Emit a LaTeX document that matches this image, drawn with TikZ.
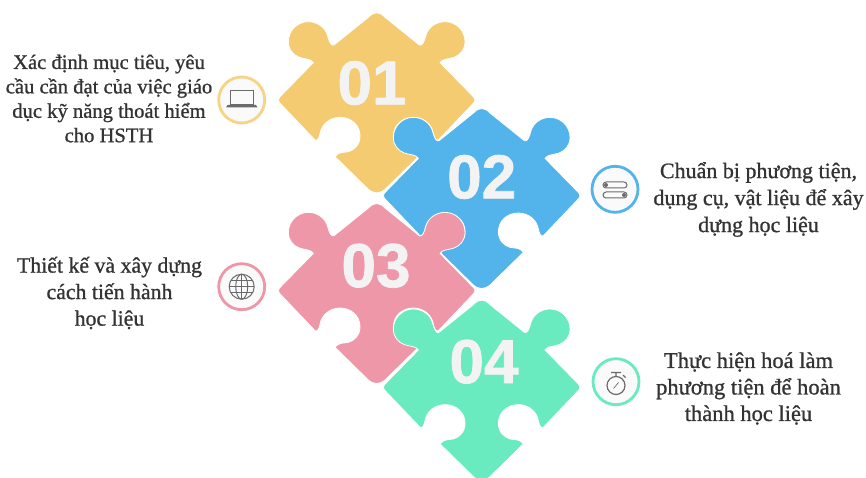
\documentclass[tikz,border=0pt]{standalone}
\usepackage{fontspec}
\setmainfont[FakeBold=0.9]{Liberation Serif}
\newfontfamily\numfont[FakeBold=1.2]{Liberation Sans}
\definecolor{cya}{HTML}{F4CB70}
\definecolor{cbl}{HTML}{52B4EA}
\definecolor{cpk}{HTML}{EE97A9}
\definecolor{cgr}{HTML}{69EBBF}
\definecolor{cnum}{HTML}{F3F3F3}
\definecolor{ctxt}{HTML}{333333}
\definecolor{cico}{HTML}{6B6B6B}
\tikzset{
  numlabel/.style={font=\numfont\fontsize{62}{62}\selectfont\bfseries,text=cnum,inner sep=0pt},
  caption/.style={text=ctxt,align=center,inner sep=0pt},
  ring/.style={circle,line width=2.8pt,fill=white!98!black,minimum size=46pt,inner sep=0pt},
  ico/.style={draw=cico,line width=1pt,fill=none},
  puzzle/.style={draw=white,line width=0.8pt,line join=round}
}
\newcommand{\puzzlepiece}[3]{%
\begin{scope}[shift={(#1,#2)},x=0.3333pt,y=-0.3333pt]
\fill[#3,puzzle] (25,-248) -- (128,-165)
 .. controls (136,-160) and (143,-175) .. (148,-195)
 .. controls (155,-218) and (178,-235) .. (205,-235)
 .. controls (238,-235) and (265,-208) .. (265,-175)
 .. controls (265,-150) and (250,-135) .. (232,-128)
 .. controls (215,-122) and (197,-124) .. (190,-112)
 -- (285,-15) .. controls (298,-3) and (298,3) .. (285,15)
 -- (185,120)
 .. controls (178,125) and (172,112) .. (170,100)
 .. controls (165,72) and (140,52) .. (110,52)
 .. controls (77,52) and (50,75) .. (50,108)
 .. controls (50,135) and (68,150) .. (85,155)
 .. controls (100,158) and (115,155) .. (125,170)
 -- (25,268) .. controls (8,282) and (-8,282) .. (-25,268)
 -- (-125,170)
 .. controls (-115,155) and (-100,158) .. (-85,155)
 .. controls (-68,150) and (-50,135) .. (-50,108)
 .. controls (-50,75) and (-77,52) .. (-110,52)
 .. controls (-140,52) and (-165,72) .. (-170,100)
 .. controls (-172,112) and (-178,125) .. (-185,120)
 -- (-285,15) .. controls (-298,3) and (-298,-3) .. (-285,-15)
 -- (-190,-112)
 .. controls (-197,-124) and (-215,-122) .. (-232,-128)
 .. controls (-250,-135) and (-265,-150) .. (-265,-175)
 .. controls (-265,-208) and (-238,-235) .. (-205,-235)
 .. controls (-178,-235) and (-155,-218) .. (-148,-195)
 .. controls (-143,-175) and (-136,-160) .. (-128,-165)
 -- (-25,-248) .. controls (-8,-266) and (8,-266) .. (25,-248) -- cycle;
\end{scope}}
\begin{document}
\begin{tikzpicture}[x=1pt,y=-1pt]
\useasboundingbox (0,0) rectangle (866,478);
\clip (0,0) rectangle (866,478);
\fill[white] (0,0) rectangle (866,478);
\puzzlepiece{376.7}{100}{cya}
\puzzlepiece{481.7}{195.7}{cbl}
\puzzlepiece{376.7}{290.7}{cpk}
\puzzlepiece{481.7}{387.3}{cgr}
\node[numlabel] (n1) at (372,83) {01};
\node[numlabel] (n2) at (481.7,177) {02};
\node[numlabel] (n3) at (376,265.7) {03};
\node[numlabel] (n4) at (484,361.7) {04};
\node[ring,draw=cya!85!white] (r1) at (241.7,100) {};
\node[ring,draw=cbl] (r2) at (615,189.3) {};
\node[ring,draw=cpk] (r3) at (241.7,286.7) {};
\node[ring,draw=cgr] (r4) at (616,381.7) {};
% laptop
\draw[ico] (230.5,91) rectangle (253.5,105);
\fill[cico] (227.5,105) -- (256,105) -- (257.5,107.5) -- (226,107.5) -- cycle;
% toggles
\draw[ico,rounded corners=3pt] (603,182) rectangle (627,188);
\draw[ico,rounded corners=3pt] (603,192) rectangle (627,198);
\fill[cico] (606,185) circle (2pt) (624,195) circle (2pt);
% globe
\draw[ico] (241.7,286.7) circle (12.5pt);
\draw[ico] (241.7,286.7) ellipse (6pt and 12.5pt);
\draw[ico] (229.2,286.7) -- (254.2,286.7) (231,280.5) -- (252.4,280.5) (231,292.9) -- (252.4,292.9) (241.7,274.2) -- (241.7,299.2);
% stopwatch
\draw[ico,line width=1.2pt] (616,385.5) circle (9pt);
\draw[ico,line width=1.2pt] (611,372.5) -- (621,372.5) (616,372.5) -- (616,376.5) (623,375) -- (625.5,377.5);
\draw[ico,line width=0.7pt] (613.5,388.5) -- (618.5,382.5);
\node[caption,font=\fontsize{20.6}{24.4}\selectfont] (t1) at (109,98.5) {Xác định mục tiêu, yêu\\cầu cần đạt của việc giáo\\dục kỹ năng thoát hiểm\\cho HSTH};
\node[caption,font=\fontsize{22}{27}\selectfont] (t2) at (758.5,199.5) {Chuẩn bị phương tiện,\\dụng cụ, vật liệu để xây\\dựng học liệu};
\node[caption,font=\fontsize{21.8}{26.5}\selectfont] (t3) at (109.5,293) {Thiết kế và xây dựng\\cách tiến hành\\học liệu};
\node[caption,font=\fontsize{22.5}{26.5}\selectfont] (t4) at (748.5,388.5) {Thực hiện hoá làm\\phương tiện để hoàn\\thành học liệu};
\end{tikzpicture}
\end{document}
